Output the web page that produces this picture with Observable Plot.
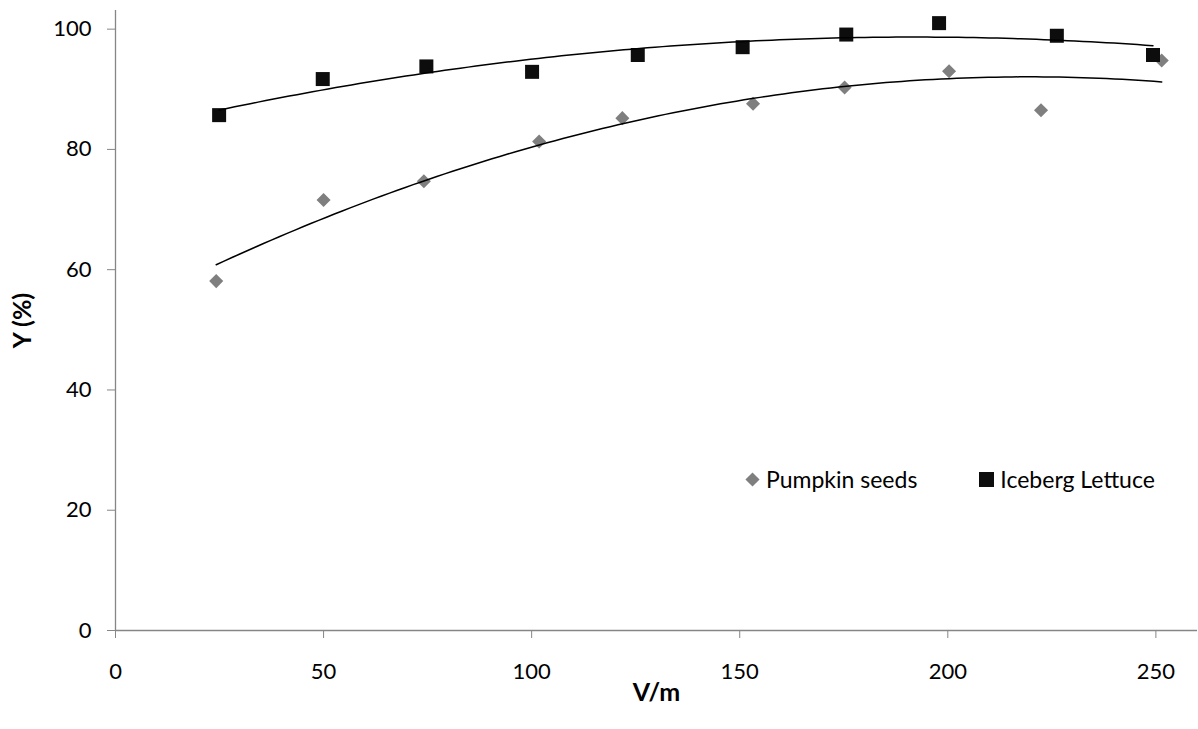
<!DOCTYPE html>
<html>
<head>
<meta charset="utf-8">
<script src="https://cdn.jsdelivr.net/npm/d3@7"></script>
<script src="https://cdn.jsdelivr.net/npm/@observablehq/plot@0.6"></script>
<style>
  html, body { margin: 0; padding: 0; background: #fff; }
  #chart { position: relative; width: 1198px; height: 729px; font-family: Lato, "Open Sans", sans-serif; }
  #chart svg g[aria-label="x-axis label"] text,
  #chart svg g[aria-label="y-axis label"] text { font-weight: 700; font-size: 25px; }
  .legend { position: absolute; left: 745px; top: 465px; display: flex; align-items: center; font-size: 23px; color: #000; white-space: nowrap; }
  .legend .item { display: flex; align-items: center; }
  .legend svg { display: block; margin-right: 6px; }
  .legend .item + .item { margin-left: 62px; }
</style>
</head>
<body>
<div id="chart"></div>
<script>
// Pumpkin seeds series (V/m, Y %)
const pumpkinV = [24.2, 50.0, 74.1, 101.8, 121.8, 153.2, 175.2, 200.3, 222.4, 251.4];
const pumpkinY = [58.1, 71.6, 74.7, 81.3, 85.2, 87.6, 90.3, 93.0, 86.5, 94.8];
// Iceberg Lettuce series (V/m, Y %)
const lettuceV = [24.9, 49.8, 74.7, 100.1, 125.5, 150.7, 175.6, 197.9, 226.2, 249.3];
const lettuceY = [85.7, 91.7, 93.8, 92.9, 95.7, 97.0, 99.1, 101.0, 98.9, 95.7];
// Axis ticks
const xTicks = [0, 50, 100, 150, 200, 250];
const yTicks = [0, 20, 40, 60, 80, 100];

const seriesNames = ["Pumpkin seeds", "Iceberg Lettuce"];
const seriesColors = ["#7f7f7f", "#0d0d0d"];

const pumpkin = pumpkinV.map((v, i) => ({v, y: pumpkinY[i]}));
const lettuce = lettuceV.map((v, i) => ({v, y: lettuceY[i]}));

// Second-order polynomial least-squares trend line over the series' x range
function polyTrend(rows, n = 120) {
  let s = [0, 0, 0, 0, 0], t = [0, 0, 0];
  for (const {v, y} of rows) {
    let p = 1;
    for (let k = 0; k < 5; k++) { s[k] += p; if (k < 3) t[k] += p * y; p *= v; }
  }
  const A = [[s[0], s[1], s[2], t[0]], [s[1], s[2], s[3], t[1]], [s[2], s[3], s[4], t[2]]];
  for (let i = 0; i < 3; i++) {
    for (let j = i + 1; j < 3; j++) {
      const f = A[j][i] / A[i][i];
      for (let k = i; k < 4; k++) A[j][k] -= f * A[i][k];
    }
  }
  const c = [0, 0, 0];
  for (let i = 2; i >= 0; i--) {
    let sum = A[i][3];
    for (let k = i + 1; k < 3; k++) sum -= A[i][k] * c[k];
    c[i] = sum / A[i][i];
  }
  const [lo, hi] = d3.extent(rows, d => d.v);
  return d3.range(n + 1).map(i => {
    const v = lo + (hi - lo) * i / n;
    return {v, y: c[0] + c[1] * v + c[2] * v * v};
  });
}

const axisGray = "#868686";

const chart = Plot.plot({
  width: 1198,
  height: 729,
  marginLeft: 115,
  marginTop: 10,
  marginRight: 1,
  marginBottom: 99,
  style: {fontFamily: "Lato, 'Open Sans', sans-serif", fontSize: "22px", color: "#000", background: "#fff"},
  x: {domain: [0, 260]},
  y: {domain: [0, 103.1]},
  marks: [
    Plot.axisX({ticks: xTicks, tickSize: 8, tickPadding: 25, stroke: axisGray, fill: "#000",
      label: "V/m", labelAnchor: "center", labelArrow: "none", labelOffset: 70}),
    Plot.axisY({ticks: yTicks, tickSize: 8, tickPadding: 16, stroke: axisGray, fill: "#000",
      label: "Y (%)", labelAnchor: "center", labelArrow: "none", labelOffset: 102}),
    Plot.ruleX([0], {stroke: axisGray, strokeWidth: 1.3}),
    Plot.ruleY([0], {stroke: axisGray, strokeWidth: 1.3}),
    Plot.dot(pumpkin, {x: "v", y: "y", symbol: "square", rotate: 45, r: 5.6, fill: seriesColors[0], stroke: "none"}),
    Plot.dot(lettuce, {x: "v", y: "y", symbol: "square", r: 7.9, fill: seriesColors[1], stroke: "none"}),
    Plot.line(polyTrend(pumpkin), {x: "v", y: "y", stroke: "#000", strokeWidth: 1.5}),
    Plot.line(polyTrend(lettuce), {x: "v", y: "y", stroke: "#000", strokeWidth: 1.5})
  ]
});

const root = document.getElementById("chart");
root.appendChild(chart);

// Legend drawn inside the plotting area
const legend = document.createElement("div");
legend.className = "legend";
seriesNames.forEach((name, i) => {
  const item = document.createElement("div");
  item.className = "item";
  const sym = i === 0
    ? `<svg width="15" height="15" viewBox="-7.5 -7.5 15 15"><rect x="-5" y="-5" width="10" height="10" transform="rotate(45)" fill="${seriesColors[i]}"/></svg>`
    : `<svg width="15" height="15" viewBox="-7.5 -7.5 15 15"><rect x="-7.5" y="-7.5" width="15" height="15" fill="${seriesColors[i]}"/></svg>`;
  item.innerHTML = sym + `<span>${name}</span>`;
  legend.appendChild(item);
});
root.appendChild(legend);
</script>
</body>
</html>
